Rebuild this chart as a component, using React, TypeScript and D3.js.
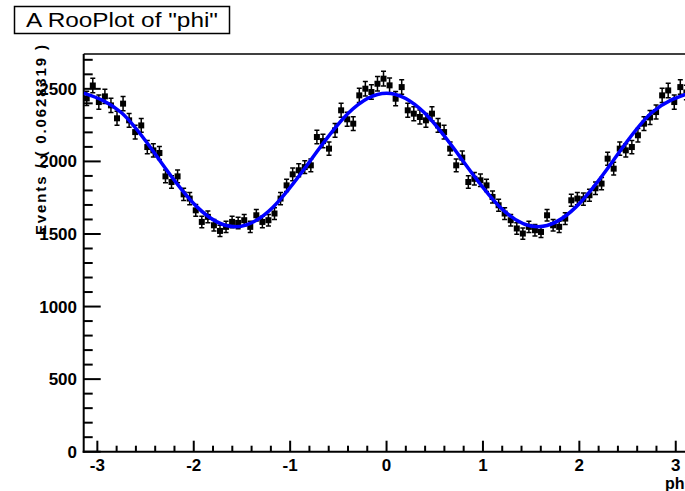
import React from "react";
import * as d3 from "d3";

const W = 685;
const H = 491;

const titleText = 'A RooPlot of "phi"';
const xTitle = "phi";
const yTitle = "Events / ( 0.0628319 )";

const xMajorTicks = [-3, -2, -1, 0, 1, 2, 3];
const yMajorTicks = [0, 500, 1000, 1500, 2000, 2500];

// event counts in 100 bins over [-pi, pi]
const counts = [
  2434, 2523, 2409, 2448, 2386, 2297, 2398, 2283, 2202, 2248,
  2099, 2076, 2058, 1897, 1858, 1897, 1773, 1744, 1663, 1583,
  1618, 1560, 1521, 1549, 1583, 1576, 1595, 1549, 1629, 1583,
  1595, 1641, 1744, 1835, 1911, 1939, 1961, 1973, 2168, 2140,
  2088, 2214, 2352, 2290, 2260, 2455, 2501, 2478, 2535, 2570,
  2524, 2432, 2512, 2352, 2329, 2306, 2283, 2329, 2248, 2202,
  2088, 1973, 2026, 1858, 1880, 1870, 1835, 1755, 1698, 1641,
  1595, 1538, 1503, 1549, 1526, 1514, 1629, 1560, 1549, 1606,
  1732, 1744, 1740, 1767, 1815, 1847, 2019, 1950, 2088, 2076,
  2099, 2180, 2260, 2303, 2340, 2455, 2489, 2409, 2512, 2475,
];

// fitted pdf curve read at phi = -pi + k*pi/8
const curveValues = [
  2470, 2335, 2010, 1685, 1550, 1685, 2010, 2335, 2470,
  2335, 2010, 1685, 1550, 1685, 2010, 2335, 2470,
];

const FONT = "'Liberation Sans', Arial, Helvetica, sans-serif";

export default function App() {
  const x = d3.scaleLinear().domain([-Math.PI, Math.PI]).range([83.7, 689.4]);
  const y = d3.scaleLinear().domain([0, 2740]).range([451.7, 54]);

  const nb = counts.length;
  const bw = (2 * Math.PI) / nb;
  const pts = counts.map((c, i) => ({ phi: -Math.PI + (i + 0.5) * bw, v: c, e: Math.sqrt(c) }));

  const curvePts = curveValues.map((v, k) => [-Math.PI + (k * Math.PI) / 8, v] as [number, number]);
  const line = d3
    .line<[number, number]>()
    .x((d) => x(d[0]))
    .y((d) => y(d[1]))
    .curve(d3.curveNatural);

  const xMinor = d3.range(-3, 3.0001, 0.2).filter((t) => Math.abs(t - Math.round(t)) > 1e-6);
  const yMinor = d3.range(0, 2701, 100).filter((t) => t % 500 !== 0);

  const x0 = x(-Math.PI);
  const yb = y(0);

  return (
    <svg
      width={W}
      height={H}
      style={{ position: "absolute", left: 0, top: 0, background: "#fff" }}
      fontFamily={FONT}
    >
      <rect x={0} y={0} width={W} height={H} fill="#fff" />
      <defs>
        <clipPath id="frame">
          <rect x={x0} y={y(2740)} width={x(Math.PI) - x0} height={yb - y(2740)} />
        </clipPath>
      </defs>

      {/* title box */}
      <rect x={14.5} y={6.5} width={215} height={27} fill="#fff" stroke="#000" strokeWidth={1.5} />
      <text x={122} y={27} textAnchor="middle" fontSize={20} textLength={192} lengthAdjust="spacingAndGlyphs">
        {titleText}
      </text>

      {/* frame top and right */}
      <line x1={x0} x2={x(Math.PI)} y1={y(2740)} y2={y(2740)} stroke="#000" strokeWidth={1.5} />
      <line x1={x(Math.PI)} x2={x(Math.PI)} y1={y(2740)} y2={yb} stroke="#000" strokeWidth={1.5} />

      {/* y axis */}
      <line x1={x0} x2={x0} y1={y(2740)} y2={yb + 1} stroke="#000" strokeWidth={2} />
      {yMajorTicks.map((t) => (
        <g key={"ym" + t}>
          <line x1={x0} x2={x0 + 17} y1={y(t)} y2={y(t)} stroke="#000" strokeWidth={2} />
          <text x={77} y={y(t) + 6} textAnchor="end" fontSize={17} fontWeight="bold">
            {t}
          </text>
        </g>
      ))}
      {yMinor.map((t) => (
        <line key={"yn" + t} x1={x0} x2={x0 + 9} y1={y(t)} y2={y(t)} stroke="#000" strokeWidth={2} />
      ))}

      {/* x axis */}
      <line x1={x0 - 1} x2={x(Math.PI)} y1={yb} y2={yb} stroke="#000" strokeWidth={2} />
      {xMajorTicks.map((t) => (
        <g key={"xm" + t}>
          <line x1={x(t)} x2={x(t)} y1={yb} y2={yb - 11} stroke="#000" strokeWidth={2} />
          <text x={x(t)} y={471} textAnchor="middle" fontSize={17} fontWeight="bold">
            {t}
          </text>
        </g>
      ))}
      {xMinor.map((t, i) => (
        <line key={"xn" + i} x1={x(t)} x2={x(t)} y1={yb} y2={yb - 6} stroke="#000" strokeWidth={2} />
      ))}

      {/* axis titles */}
      <text x={689} y={489} textAnchor="end" fontSize={16} fontWeight="bold">
        {xTitle}
      </text>
      <text
        transform={`translate(46,45) rotate(-90)`}
        textAnchor="end"
        fontSize={15}
        fontWeight="bold"
        textLength={190}
        lengthAdjust="spacing"
      >
        {yTitle}
      </text>

      <g clipPath="url(#frame)">
        {/* data points */}
        {pts.map((p, i) => {
          const cx = x(p.phi);
          return (
            <g key={"p" + i} stroke="#000" strokeWidth={1.5}>
              <line x1={cx} x2={cx} y1={y(p.v + p.e)} y2={y(p.v - p.e)} />
              <line x1={cx - 2.5} x2={cx + 2.5} y1={y(p.v + p.e)} y2={y(p.v + p.e)} />
              <line x1={cx - 2.5} x2={cx + 2.5} y1={y(p.v - p.e)} y2={y(p.v - p.e)} />
              <rect x={cx - 3} y={y(p.v) - 3} width={6} height={6} fill="#000" stroke="none" />
            </g>
          );
        })}
        {/* fitted curve */}
        <path d={line(curvePts) || ""} fill="none" stroke="#0000ff" strokeWidth={3.5} />
      </g>
    </svg>
  );
}
